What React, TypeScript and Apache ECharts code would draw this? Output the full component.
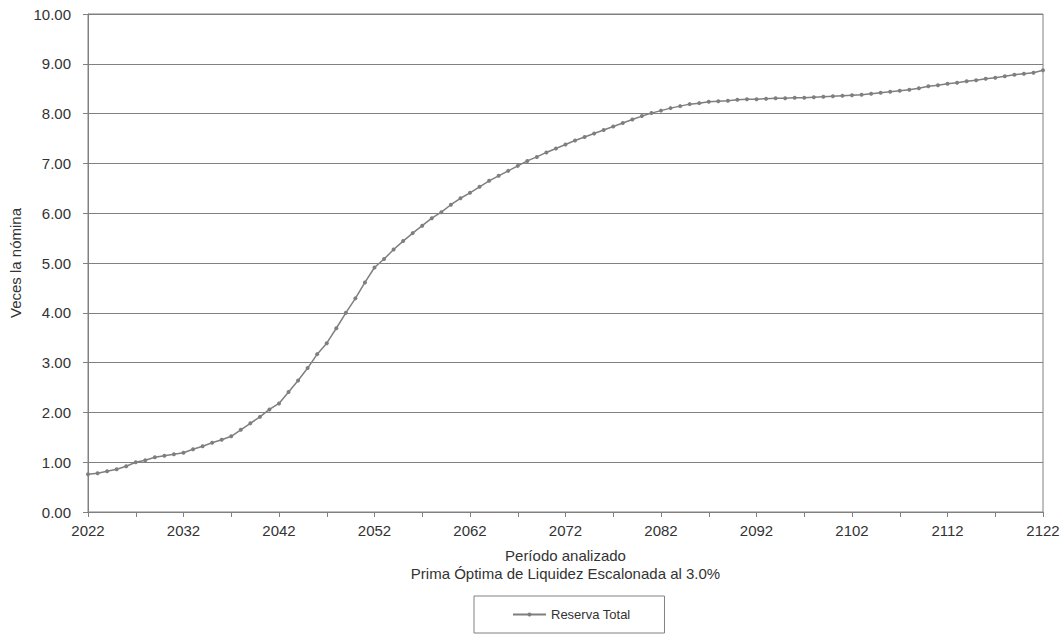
import React, { useEffect, useRef } from "react";
import * as echarts from "echarts";

const startYear = 2022;
const endYear = 2122;
const years: string[] = [];
for (let y = startYear; y <= endYear; y++) years.push(String(y));

const reservaTotal: number[] = [
  // 2022-2031
  0.76, 0.78, 0.82, 0.86, 0.92, 1.0, 1.04, 1.1, 1.13, 1.16,
  // 2032-2041
  1.19, 1.26, 1.32, 1.39, 1.45, 1.52, 1.65, 1.78, 1.91, 2.06,
  // 2042-2051
  2.18, 2.41, 2.64, 2.89, 3.17, 3.39, 3.69, 4.0, 4.29, 4.61,
  // 2052-2061
  4.91, 5.08, 5.27, 5.44, 5.6, 5.75, 5.9, 6.02, 6.17, 6.3,
  // 2062-2071
  6.41, 6.53, 6.65, 6.75, 6.85, 6.95, 7.05, 7.13, 7.22, 7.3,
  // 2072-2081
  7.38, 7.46, 7.53, 7.6, 7.67, 7.74, 7.81, 7.88, 7.95, 8.01,
  // 2082-2091
  8.06, 8.11, 8.15, 8.19, 8.21, 8.24, 8.25, 8.26, 8.28, 8.29,
  // 2092-2101
  8.29, 8.3, 8.31, 8.31, 8.32, 8.32, 8.33, 8.34, 8.35, 8.36,
  // 2102-2111
  8.37, 8.38, 8.4, 8.42, 8.44, 8.46, 8.48, 8.51, 8.55, 8.57,
  // 2112-2122
  8.6, 8.62, 8.65, 8.67, 8.7, 8.72, 8.75, 8.78, 8.8, 8.82, 8.87,
];

const seriesName = "Reserva Total";
const yAxisTitle = "Veces la nómina";
const xAxisTitle = "Período analizado\nPrima Óptima de Liquidez Escalonada al 3.0%";

const FONT = "'Liberation Sans', Arial, sans-serif";
const TXT = "#333333";
const LINE = "#7f7f7f";

export default function App() {
  const ref = useRef<HTMLDivElement>(null);
  useEffect(() => {
    if (!ref.current) return;
    const chart = echarts.init(ref.current, undefined, { renderer: "svg" });
    chart.setOption({
      animation: false,
      textStyle: { fontFamily: FONT, color: TXT },
      grid: {
        left: 88,
        right: 18,
        top: 14,
        bottom: 122,
        containLabel: false,
        outerBoundsMode: "none",
        show: true,
        borderColor: "#808080",
        borderWidth: 1,
      },
      legend: {
        data: [seriesName],
        left: 474,
        top: 596,
        padding: [11, 34, 11, 38],
        borderColor: "#808080",
        borderWidth: 1,
        itemWidth: 33,
        itemHeight: 5,
        itemGap: 4,
        textStyle: { fontFamily: FONT, fontSize: 13, color: TXT, lineHeight: 15 },
      },
      xAxis: {
        type: "category",
        data: years,
        boundaryGap: false,
        name: xAxisTitle,
        nameLocation: "middle",
        nameGap: 34,
        nameTextStyle: {
          fontFamily: FONT,
          fontSize: 15,
          color: TXT,
          lineHeight: 18,
          verticalAlign: "top",
        },
        axisLine: { show: true, lineStyle: { color: "#808080", width: 1 } },
        axisTick: {
          show: true,
          interval: 4,
          length: 5,
          inside: false,
          lineStyle: { color: "#808080" },
        },
        axisLabel: {
          interval: 9,
          fontFamily: FONT,
          fontSize: 15,
          color: TXT,
          margin: 11,
        },
        splitLine: { show: false },
      },
      yAxis: {
        type: "value",
        min: 0,
        max: 10,
        interval: 1,
        name: yAxisTitle,
        nameLocation: "middle",
        nameGap: 63,
        nameTextStyle: { fontFamily: FONT, fontSize: 15, color: TXT },
        axisLine: { show: true, lineStyle: { color: "#808080", width: 1 } },
        axisTick: { show: true, length: 5, lineStyle: { color: "#808080" } },
        axisLabel: {
          formatter: (v: number) => v.toFixed(2),
          fontFamily: FONT,
          fontSize: 15,
          color: TXT,
          margin: 17,
        },
        splitLine: { show: true, lineStyle: { color: "#808080", width: 1 } },
      },
      series: [
        {
          name: seriesName,
          type: "line",
          data: reservaTotal,
          symbol: "circle",
          symbolSize: 4,
          showSymbol: true,
          itemStyle: { color: LINE },
          lineStyle: { color: LINE, width: 1.5 },
        },
      ],
    });
    return () => chart.dispose();
  }, []);
  return <div ref={ref} style={{ width: 1061, height: 634, position: "absolute", left: 0, top: 0 }} />;
}
